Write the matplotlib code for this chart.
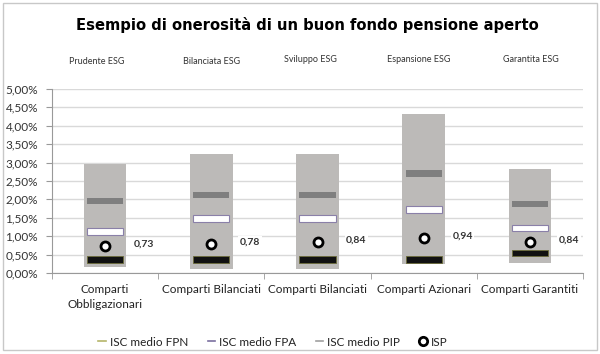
import matplotlib
matplotlib.use("Agg")
import matplotlib.pyplot as plt
from matplotlib.lines import Line2D
from matplotlib.patches import Rectangle
from matplotlib.ticker import FuncFormatter, FixedLocator

# ---- data (percent) ----
categories = ["Comparti\nObbligazionari", "Comparti Bilanciati", "Comparti Bilanciati",
              "Comparti Azionari", "Comparti Garantiti"]
esg_labels = ["Prudente ESG", "Bilanciata ESG", "Sviluppo ESG", "Espansione ESG", "Garantita ESG"]
range_low = [0.15, 0.11, 0.11, 0.25, 0.26]
range_high = [2.97, 3.24, 3.24, 4.32, 2.82]
isc_fpn = [0.37, 0.36, 0.36, 0.37, 0.54]
isc_fpa = [1.12, 1.48, 1.48, 1.72, 1.22]
isc_pip = [1.96, 2.12, 2.12, 2.71, 1.87]
isp = [0.73, 0.78, 0.84, 0.94, 0.84]
isp_labels = ["0,73", "0,78", "0,84", "0,94", "0,84"]
yticks = [0, 0.5, 1.0, 1.5, 2.0, 2.5, 3.0, 3.5, 4.0, 4.5, 5.0]

FONT = "Lato"
W, H = 600, 354
fig = plt.figure(figsize=(6, 3.54), dpi=100)
ax = fig.add_axes([52 / W, 1 - 273 / H, (583 - 52) / W, (273 - 89) / H])

x = list(range(len(categories)))
mh = 0.18  # marker bar thickness (style)

ax.bar(x, [h - l for h, l in zip(range_high, range_low)], bottom=range_low, width=0.4,
       color="#bcbab8", zorder=2)
ax.bar(x, [mh] * 5, bottom=[v - mh / 2 for v in isc_pip], width=0.34,
       color="#7f7f7f", zorder=3)
ax.bar(x, [mh] * 5, bottom=[v - mh / 2 for v in isc_fpa], width=0.34,
       color="white", edgecolor="#8a80a8", linewidth=0.8, zorder=3)
ax.bar(x, [mh] * 5, bottom=[v - mh / 2 for v in isc_fpn], width=0.34,
       color="#111111", edgecolor="#6b6b3a", linewidth=0.6, zorder=3)
ax.plot(x, isp, linestyle="none", marker="o", markersize=6.5, markerfacecolor="white",
        markeredgecolor="black", markeredgewidth=2.0, zorder=4)

for xi, v, lab in zip(x, isp, isp_labels):
    ax.text(xi + 0.27, v + 0.06, lab, fontsize=7.5, family=FONT, fontweight="bold",
            color="#333333", ha="left", va="center", zorder=5,
            bbox=dict(boxstyle="square,pad=0.15", facecolor="white", edgecolor="none"))

ax.set_xlim(-0.5, len(categories) - 0.5)
ax.set_ylim(0, 5.0)
ax.set_yticks(yticks)
ax.yaxis.set_major_formatter(FuncFormatter(lambda v, p: f"{v:.2f}".replace(".", ",") + "%"))
ax.set_xticks(x)
ax.set_xticklabels(categories, fontsize=8.5, family=FONT, color="#222222", linespacing=1.45)
ax.xaxis.set_minor_locator(FixedLocator([i - 0.5 for i in range(len(categories) + 1)]))
ax.tick_params(axis="x", which="major", length=0, pad=8)
ax.tick_params(axis="x", which="minor", length=4, color="#999999", direction="out")
ax.tick_params(axis="y", length=4, color="#999999", labelsize=8.5, labelcolor="#333333", pad=6)
for t in ax.get_yticklabels():
    t.set_family(FONT)

ax.grid(axis="y", color="#d9d9d9", linewidth=1.0, zorder=0)
ax.set_axisbelow(True)
for s in ["top", "right"]:
    ax.spines[s].set_visible(False)
ax.spines["left"].set_color("#999999")
ax.spines["bottom"].set_color("#999999")

fig.text(307 / W, 1 - 25 / H, "Esempio di onerosità di un buon fondo pensione aperto",
         ha="center", va="center", fontsize=11.8, fontweight="bold", family="DejaVu Sans",
         fontstretch="condensed", color="black")
esg_x = [97, 212, 310, 419, 531]
esg_y = [62, 62, 60, 60, 60]
for ex, ey, lab in zip(esg_x, esg_y, esg_labels):
    fig.text(ex / W, 1 - ey / H, lab, ha="center", va="center", fontsize=6.5, family=FONT,
             color="#333333")

handles = [
    Line2D([], [], color="#b5b56a", linewidth=1.2),
    Line2D([], [], color="#7a6fa0", linewidth=1.2),
    Line2D([], [], color="#a0a0a0", linewidth=1.2),
    Line2D([], [], linestyle="none", marker="o", markersize=6, markerfacecolor="white",
           markeredgecolor="black", markeredgewidth=2.0),
]
leg = fig.legend(handles, ["ISC medio FPN", "ISC medio FPA", "ISC medio PIP", "ISP"],
                 loc="center", bbox_to_anchor=(273 / W, 1 - 342 / H), ncol=4, frameon=False,
                 handlelength=0.6, handletextpad=0.4, columnspacing=1.6,
                 prop={"family": FONT, "size": 8.5})
for t in leg.get_texts():
    t.set_color("#222222")

fig.patches.append(Rectangle((3 / W, 4 / H), 594 / W, 347 / H, transform=fig.transFigure,
                             fill=False, edgecolor="#c8c8c8", linewidth=1.0))

fig.savefig("out.png", dpi=100, facecolor="white")
